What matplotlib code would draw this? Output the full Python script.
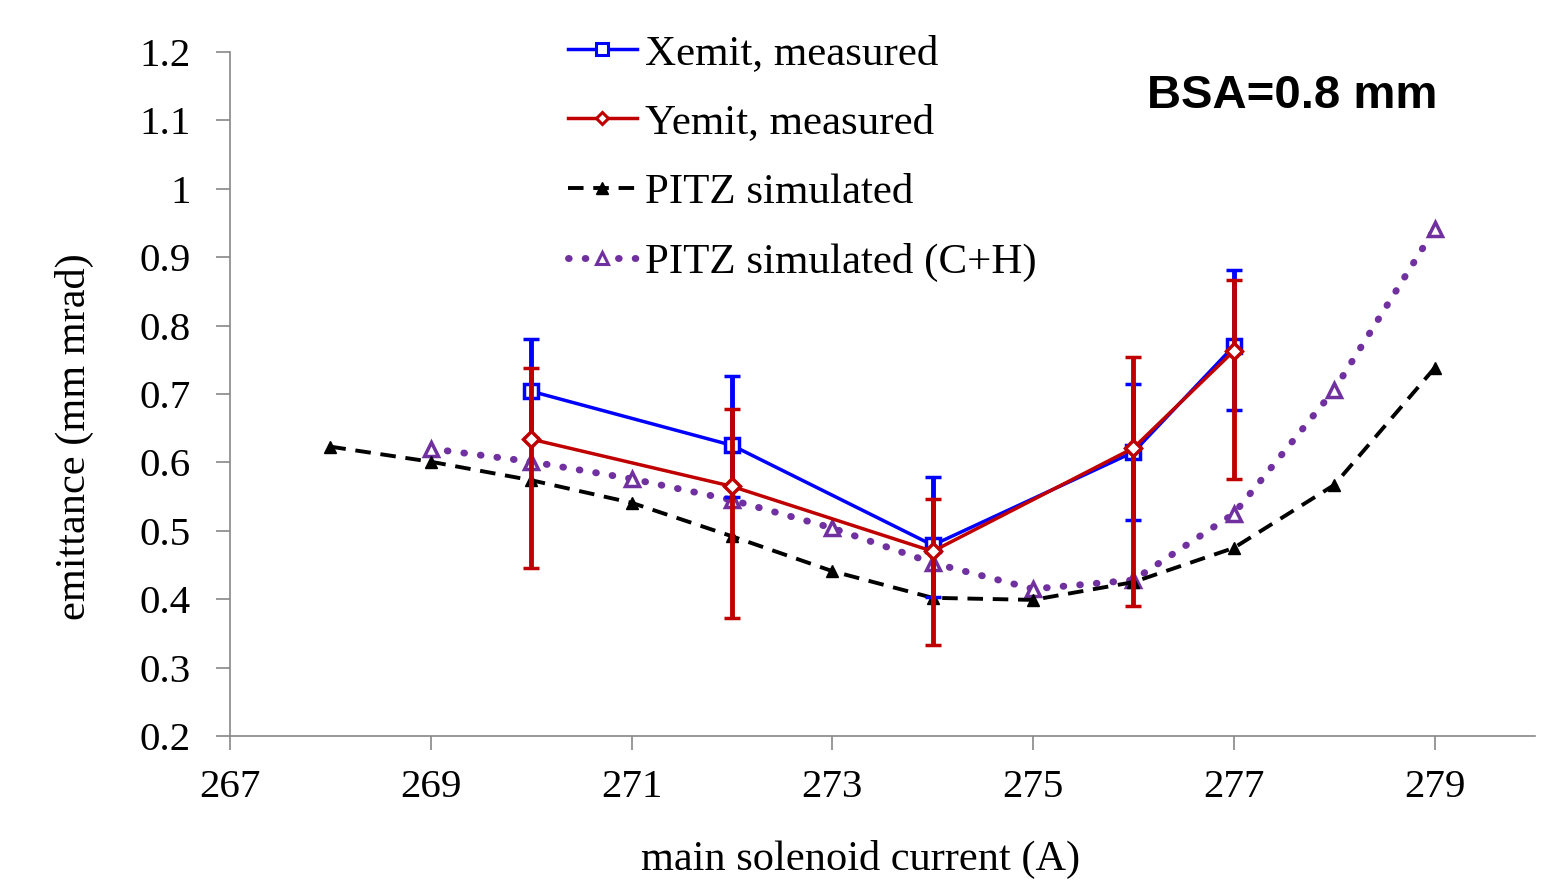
import numpy as np
import matplotlib.pyplot as plt
from matplotlib.lines import Line2D

# data
x_meas = [270, 272, 274, 276, 277]
xemit = [0.704, 0.625, 0.479, 0.615, 0.770]
xemit_lo = [0.068, 0.075, 0.076, 0.099, 0.093]
xemit_hi = [0.076, 0.101, 0.100, 0.100, 0.111]

yemit = [0.634, 0.565, 0.470, 0.621, 0.763]
yemit_lo = [0.188, 0.192, 0.137, 0.231, 0.187]
yemit_hi = [0.104, 0.113, 0.076, 0.133, 0.104]

x_sim = [268, 269, 270, 271, 272, 273, 274, 275, 276, 277, 278, 279]
pitz_sim = [0.623, 0.601, 0.574, 0.541, 0.492, 0.441, 0.402, 0.399, 0.425, 0.475, 0.567, 0.738]

x_ch = [269, 270, 271, 272, 273, 274, 275, 276, 277, 278, 279]
pitz_ch = [0.620, 0.601, 0.576, 0.545, 0.504, 0.453, 0.415, 0.428, 0.525, 0.706, 0.941]

plt.rcParams['font.family'] = ['Liberation Serif', 'DejaVu Serif']

fig = plt.figure(figsize=(15.57, 8.82), dpi=100)
ax = fig.add_axes([230 / 1557, 1 - 736 / 882, (1535 - 230) / 1557, (736 - 52) / 882])

purple = '#7030a0'
blue = '#0000ff'
red = '#c00000'
dot_dashes = (0.1, 2.3)

ax.plot(x_ch, pitz_ch, color=purple, lw=5, dashes=dot_dashes, dash_capstyle='round',
        marker='^', ms=10, mfc='white', mec=purple, mew=2.5, zorder=2)
ax.plot(x_sim, pitz_sim, color='black', lw=2.8, dashes=(4, 2.5), marker='^', ms=9,
        mfc='black', mec='black', zorder=3)

ax.errorbar(x_meas, xemit, yerr=[xemit_lo, xemit_hi], color=blue, lw=2.5,
            marker='s', ms=10, mfc='white', mec=blue, mew=2.5,
            elinewidth=3.5, capsize=6, capthick=3.5, zorder=4)
ax.errorbar(x_meas, yemit, yerr=[yemit_lo, yemit_hi], color=red, lw=2.5,
            marker='D', ms=8, mfc='white', mec=red, mew=2.5,
            elinewidth=3.5, capsize=6, capthick=3.5, zorder=5)

ax.set_xlim(267, 280)
ax.set_ylim(0.2, 1.2)
ax.set_xticks(np.arange(267, 280, 2))
ax.set_yticks(np.arange(0.2, 1.21, 0.1))
ax.set_yticklabels(['0.2', '0.3', '0.4', '0.5', '0.6', '0.7', '0.8', '0.9', '1', '1.1', '1.2'])

for s in ['top', 'right']:
    ax.spines[s].set_visible(False)
for s in ['left', 'bottom']:
    ax.spines[s].set_color('#888888')
    ax.spines[s].set_linewidth(1.2)
ax.tick_params(axis='both', direction='out', length=10, width=1.2, color='#888888',
               labelsize=29.5)
ax.tick_params(axis='x', pad=14)
ax.tick_params(axis='y', pad=18)

ax.set_xlabel('main solenoid current (A)', fontsize=30.5)
ax.xaxis.set_label_coords(0.483, -0.152)
ax.set_ylabel('emittance (mm mrad)', fontsize=30.5)
ax.yaxis.set_label_coords(-0.104, 0.437)

# legend without error bars, like the original
handles = [
    Line2D([], [], color=blue, lw=2.5, marker='s', ms=8, mfc='white', mec=blue, mew=2.2),
    Line2D([], [], color=red, lw=2.5, marker='D', ms=6, mfc='white', mec=red, mew=2.2),
    Line2D([], [], color='black', lw=2.8, dashes=(4, 2.5), marker='^', ms=8, mfc='black'),
    Line2D([], [], color=purple, lw=5, dashes=dot_dashes, dash_capstyle='round', marker='^',
           ms=9, mfc='white', mec=purple, mew=2.2),
]
labels = ['Xemit, measured', 'Yemit, measured', 'PITZ simulated', 'PITZ simulated (C+H)']
ax.legend(handles, labels, loc='upper left', bbox_to_anchor=(0.259, 1.027), frameon=False,
          fontsize=31, handlelength=1.6, handletextpad=0.18, labelspacing=0.71,
          borderaxespad=0, borderpad=0)

ax.text(0.703, 0.936, 'BSA=0.8 mm', transform=ax.transAxes, fontsize=34,
        fontweight='bold', family='Liberation Sans', va='center')

fig.savefig('out.png', dpi=100)
